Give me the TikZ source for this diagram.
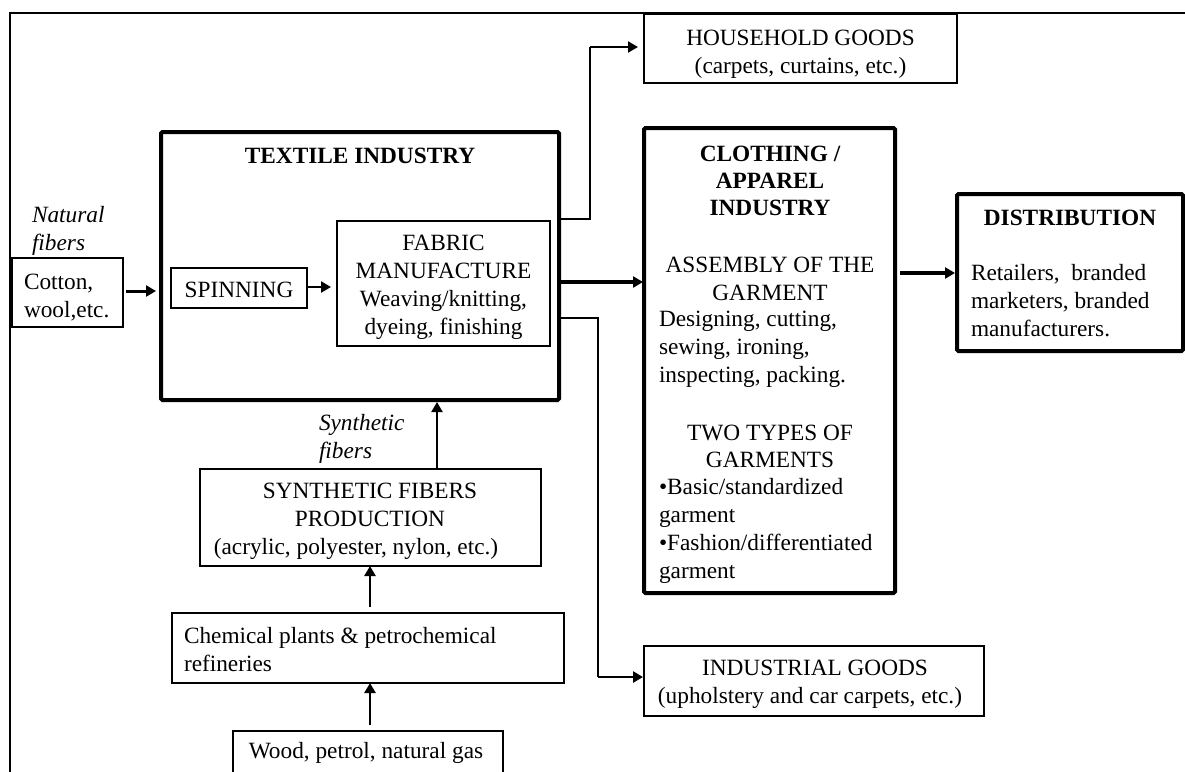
\documentclass[tikz,border=0pt]{standalone}
\usepackage{fontspec}
\setmainfont{Liberation Serif}
\usetikzlibrary{arrows.meta}
\begin{document}
\begin{tikzpicture}[x=1pt,y=-1pt,
  every node/.style={font=\fontsize{23.3}{28}\selectfont, inner sep=0pt, outer sep=0pt},
  thinbox/.style={draw, line width=1.3pt, rectangle},
  thickbox/.style={draw, line width=4pt, rectangle, rounded corners=1.5pt},
  ctxt/.style={anchor=base},
  ltxt/.style={anchor=base west},
  btxt/.style={anchor=base, font=\fontsize{23.3}{28}\selectfont\bfseries},
  itxt/.style={anchor=base west, font=\fontsize{23.3}{28}\selectfont\itshape},
  head/.style={-{Triangle[length=10pt,width=11pt]}},
  thinline/.style={line width=1.3pt},
  arrowA/.style={head, line width=3.5pt},
  arrowB/.style={head, line width=2.5pt},
  arrowC/.style={head, line width=2pt}]
\useasboundingbox (0,0) rectangle (1185,771);
% outer frame
\draw[line width=2pt] (10,775) -- (10,13) -- (1190,13);

% boxes
\node[thinbox, minimum width=313, minimum height=69] (household) at (800.5,48.5) {};
\node[thickbox, minimum width=398, minimum height=268] (textile) at (360,266) {};
\node[thinbox, minimum width=111, minimum height=69] (cotton) at (67.5,292.5) {};
\node[thinbox, minimum width=136, minimum height=40] (spinning) at (239,288) {};
\node[thinbox, minimum width=213, minimum height=125] (fabric) at (443.5,283.5) {};
\node[thickbox, minimum width=251, minimum height=465] (clothing) at (769.5,360.5) {};
\node[thickbox, minimum width=226, minimum height=157] (distribution) at (1070,272.5) {};
\node[thinbox, minimum width=341, minimum height=97] (synth) at (370.5,517.5) {};
\node[thinbox, minimum width=392, minimum height=70] (chem) at (368,648) {};
\node[thinbox, minimum width=270, minimum height=69] (wood) at (368,765.5) {};
\node[thinbox, minimum width=340, minimum height=70] (industrial) at (814,681) {};

% texts
\node[ctxt] (hh1) at (800.5,45) {HOUSEHOLD GOODS};
\node[ctxt] (hh2) at (800.5,73) {(carpets, curtains, etc.)};
\node[btxt] (tx1) at (360,163) {TEXTILE INDUSTRY};
\node[itxt] (nf1) at (32,222) {Natural};
\node[itxt] (nf2) at (32,250) {fibers};
\node[ltxt] (ct1) at (24,289) {Cotton,};
\node[ltxt] (ct2) at (24,317) {wool,etc.};
\node[ctxt] (sp1) at (239,297) {SPINNING};
\node[ctxt] (fb1) at (443.5,250) {FABRIC};
\node[ctxt] (fb2) at (443.5,278) {MANUFACTURE};
\node[ctxt] (fb3) at (443.5,306) {Weaving/knitting,};
\node[ctxt] (fb4) at (443.5,334) {dyeing, finishing};
\node[btxt] (cl1) at (770,161) {CLOTHING /};
\node[btxt] (cl2) at (770,188) {APPAREL};
\node[btxt] (cl3) at (770,215) {INDUSTRY};
\node[ctxt] (cl4) at (770,272) {ASSEMBLY OF THE};
\node[ctxt] (cl5) at (770,300) {GARMENT};
\node[ltxt] (cl6) at (659,326) {Designing, cutting,};
\node[ltxt] (cl7) at (659,354) {sewing, ironing,};
\node[ltxt] (cl8) at (659,382) {inspecting, packing.};
\node[ctxt] (cl9) at (770,440) {TWO TYPES OF};
\node[ctxt] (cl10) at (770,467) {GARMENTS};
\node[ltxt] (cl11) at (659,494) {•Basic/standardized};
\node[ltxt] (cl12) at (659,522) {garment};
\node[ltxt] (cl13) at (659,550) {•Fashion/differentiated};
\node[ltxt] (cl14) at (659,578) {garment};
\node[btxt] (ds1) at (1070,225) {DISTRIBUTION};
\node[ltxt] (ds2) at (971,280) {Retailers,\ \ branded};
\node[ltxt] (ds3) at (971,308) {marketers, branded};
\node[ltxt] (ds4) at (971,336) {manufacturers.};
\node[itxt] (sf1) at (319,430) {Synthetic};
\node[itxt] (sf2) at (319,458) {fibers};
\node[ctxt] (sy1) at (370,498) {SYNTHETIC FIBERS};
\node[ctxt] (sy2) at (370,526) {PRODUCTION};
\node[ctxt] (sy3) at (356,554) {(acrylic, polyester, nylon, etc.)};
\node[ltxt] (ch1) at (184,643) {Chemical plants \& petrochemical};
\node[ltxt] (ch2) at (184,671) {refineries};
\node[ctxt] (wd1) at (366,758) {Wood, petrol, natural gas};
\node[ctxt] (in1) at (815,675) {INDUSTRIAL GOODS};
\node[ctxt] (in2) at (810,703) {(upholstery and car carpets, etc.)};

% connectors
\draw[arrowB, line width=3pt, shorten <=3pt, shorten >=5pt] (cotton.east |- 0,291) -- (textile.west |- 0,291);
\draw[arrowB, shorten <=1pt, shorten >=6pt] (spinning.east |- 0,287) -- (fabric.west |- 0,287);
\draw[arrowA, shorten <=2pt, shorten >=1pt] (textile.east |- 0,282) -- (clothing.west |- 0,282);
\draw[arrowA, shorten <=5pt, shorten >=2pt] (clothing.east |- 0,273) -- (distribution.west |- 0,273);
\draw[arrowC, shorten >=2pt] (synth.north -| 437,0) -- (textile.south -| 437,0);
\draw[arrowB, shorten <=6pt] (chem.north -| 370,0) -- (synth.south -| 370,0);
\draw[arrowB, shorten <=6pt] (wood.north -| 370,0) -- (chem.south -| 370,0);
\coordinate (hk) at (590,47);
\draw[thinline] (textile.east |- 0,219) -| (hk);
\draw[arrowC, shorten >=6pt] (hk) -- (household.west |- 0,47);
\coordinate (ik) at (598,677);
\draw[thinline] (textile.east |- 0,318) -| (ik);
\draw[arrowB, shorten >=1pt] (ik) -- (industrial.west |- 0,677);
\end{tikzpicture}
\end{document}
